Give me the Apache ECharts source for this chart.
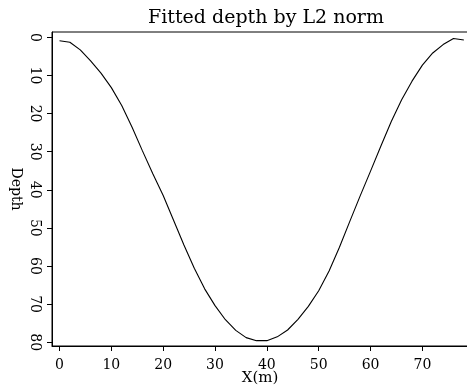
<!DOCTYPE html>
<html>
<head>
<meta charset="utf-8">
<script src="https://cdn.jsdelivr.net/npm/echarts@6/dist/echarts.min.js"></script>
<style>
  html, body { margin: 0; padding: 0; background: #fff; }
  #container { width: 467px; height: 392px; }
</style>
</head>
<body>
<div id="container"></div>
<script>
var xs = [0, 2, 4, 6, 8, 10, 12, 14, 16, 18, 20, 22, 24, 26, 28, 30, 32, 34, 36, 38,
          40, 42, 44, 46, 48, 50, 52, 54, 56, 58, 60, 62, 64, 66, 68, 70, 72, 74, 76, 78];
var depths = [0.9, 1.3, 3.3, 6.2, 9.4, 13.2, 17.9, 23.6, 29.8, 35.8, 41.5, 48, 54.5, 60.6, 66, 70.4, 74.1, 76.9, 78.8, 79.6,
              79.6, 78.6, 76.8, 74, 70.6, 66.5, 61.3, 55.1, 48.3, 41.6, 35.1, 28.5, 22.1, 16.4, 11.5, 7.3, 4.1, 1.9, 0.3, 0.7];
var xTicks = [0, 10, 20, 30, 40, 50, 60, 70];
var yTicks = [0, 10, 20, 30, 40, 50, 60, 70, 80];

var dom = document.getElementById('container');
var myChart = echarts.init(dom, null, { renderer: 'canvas' });
var font = 'DejaVu Serif';

var option = {
    backgroundColor: '#fff',
    animation: false,
    title: {
        text: 'Fitted depth by L2 norm',
        left: 261,
        textAlign: 'center',
        top: 4,
        textStyle: { fontFamily: font, fontSize: 19, fontWeight: 'normal', color: '#000' }
    },
    grid: {
        left: 52, top: 32, right: -1, bottom: 46,
        containLabel: false,
        outerBoundsMode: 'none',
        show: true, borderColor: '#000', borderWidth: 1
    },
    xAxis: {
        type: 'value',
        min: -1.45, max: 78.8,
        name: 'X(m)',
        nameLocation: 'middle',
        nameGap: 25,
        nameMoveOverlap: false,
        nameTextStyle: { fontFamily: font, fontSize: 15, color: '#000' },
        splitLine: { show: false },
        axisLine: { onZero: false, lineStyle: { color: '#000', width: 1 } },
        axisTick: { customValues: xTicks, length: 5, lineStyle: { color: '#000' } },
        axisLabel: { customValues: xTicks, margin: 12, fontFamily: font, fontSize: 14, color: '#000' }
    },
    yAxis: {
        type: 'value',
        inverse: true,
        min: -1.4, max: 81,
        name: 'Depth',
        nameLocation: 'middle',
        nameRotate: -90,
        nameGap: 29,
        nameMoveOverlap: false,
        nameTextStyle: { fontFamily: font, fontSize: 14, color: '#000' },
        splitLine: { show: false },
        axisLine: { onZero: false, lineStyle: { color: '#000', width: 1 } },
        axisTick: { customValues: yTicks, length: 5, lineStyle: { color: '#000' } },
        axisLabel: { customValues: yTicks, rotate: -90, margin: 10, fontFamily: font, fontSize: 14, color: '#000' }
    },
    series: [{
        type: 'line',
        data: xs.map(function (x, i) { return [x, depths[i]]; }),
        showSymbol: false,
        smooth: false,
        lineStyle: { color: '#000', width: 1.1 }
    }]
};
myChart.setOption(option);
</script>
</body>
</html>
